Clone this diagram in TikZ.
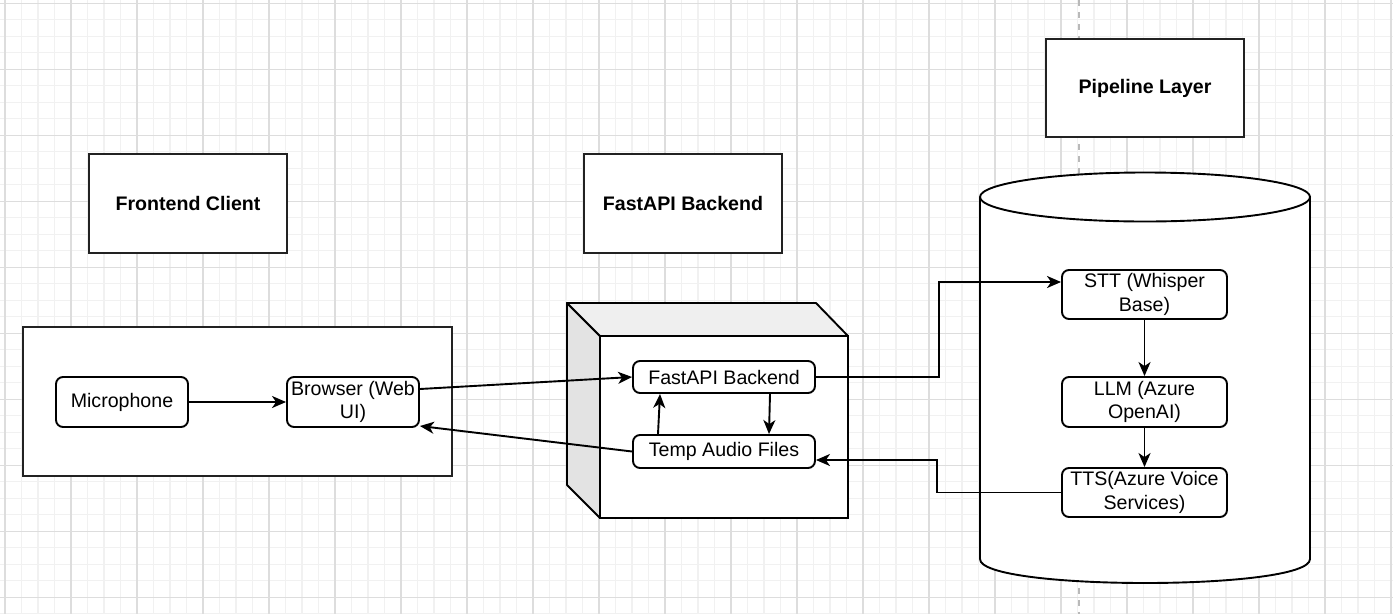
\documentclass[tikz,border=0pt]{standalone}
\usepackage{fontspec}
\setmainfont{Liberation Sans}
\usetikzlibrary{arrows.meta}
\definecolor{minorgray}{HTML}{F1F1F1}
\definecolor{majorgray}{HTML}{DDDDDD}
\definecolor{sidegray}{HTML}{E3E3E3}
\definecolor{topgray}{HTML}{EFEFEF}
\definecolor{edgegray}{HTML}{222222}
\begin{document}
\begin{tikzpicture}[x=1pt,y=-1pt,
		labeltext/.style={font=\fontsize{19.6}{23.8}\selectfont},
		titlebox/.style={draw=edgegray,line width=2pt,fill=white,inner sep=0pt,minimum width=198pt,minimum height=99pt,labeltext,font=\fontsize{19.6}{23.8}\selectfont\bfseries},
		stepbox/.style={draw=black,line width=1.9pt,fill=white,rounded corners=7pt,inner sep=0pt,align=center,labeltext},
		arr/.style={line width=1.9pt,-{Stealth[length=14pt,width=12pt,inset=4pt]}}]
	\useasboundingbox (0,0) rectangle (1393,614);
	\fill[white] (0,0) rectangle (1393,614);

	\foreach \k in {0,...,85} \draw[minorgray,line width=1.2pt] ({5+16.5*(\k-1)},0) -- ({5+16.5*(\k-1)},614);
	\foreach \k in {0,...,38} \draw[minorgray,line width=1.2pt] (0,{3.3+16.5*(\k-1)}) -- (1393,{3.3+16.5*(\k-1)});
	\foreach \k in {0,...,21} \draw[majorgray,line width=1.2pt] ({5+66*\k},0) -- ({5+66*\k},614);
	\foreach \k in {0,...,9} \draw[majorgray,line width=1.2pt] (0,{3.3+66*\k}) -- (1393,{3.3+66*\k});
	\draw[gray!55,line width=1.3pt,dash pattern=on 6pt off 6pt] (1079,0) -- (1079,614);

	\node[titlebox] (frontTitle) at (188,203.5) {Frontend Client};
	\node[titlebox] (backTitle) at (683,203.5) {FastAPI Backend};
	\node[titlebox,minimum height=98pt] (pipeTitle) at (1145,88) {Pipeline Layer};

	\node[draw=edgegray,line width=2pt,fill=white,minimum width=429pt,minimum height=149pt] (front) at (237.5,401.5) {};
	\node[stepbox,minimum width=132pt,minimum height=50pt] (mic) at (122,402) {Microphone};
	\node[stepbox,minimum width=132pt,minimum height=50pt] (browser) at (353,402) {Browser (Web\\UI)};

	\filldraw[fill=sidegray,draw=black,line width=1.9pt,line join=round] (567,303) -- (600,336) -- (600,518) -- (567,485) -- cycle;
	\filldraw[fill=topgray,draw=black,line width=1.9pt,line join=round] (567,303) -- (816,303) -- (848,336) -- (600,336) -- cycle;
	\filldraw[fill=white,draw=black,line width=1.9pt] (600,336) rectangle (848,518);
	\node[stepbox,minimum width=182pt,minimum height=32pt] (fastapi) at (724,377) {FastAPI Backend};
	\node[stepbox,minimum width=182pt,minimum height=33pt] (temp) at (724,451.5) {Temp Audio Files};

	\filldraw[fill=white,draw=black,line width=1.9pt] (980,197) -- (980,559) .. controls (980,591) and (1310,591) .. (1310,559) -- (1310,197);
	\filldraw[fill=white,draw=black,line width=1.9pt] (1145,197) ellipse [x radius=165,y radius=24.5];
	\node[stepbox,minimum width=165pt,minimum height=49pt] (stt) at (1144.5,294.5) {STT (Whisper\\Base)};
	\node[stepbox,minimum width=165pt,minimum height=50pt] (llm) at (1144.5,402) {LLM (Azure\\OpenAI)};
	\node[stepbox,minimum width=165pt,minimum height=49pt] (tts) at (1144.5,492.5) {TTS(Azure Voice\\Services)};

	\draw[arr] (mic) -- (browser);
	\draw[arr] ([yshift=13pt]browser.east) -- (fastapi.west);
	\draw[arr] (temp.west) -- ([yshift=-24pt]browser.east);
	\draw[arr] ([xshift=-66pt]temp.north) -- ([xshift=-64pt]fastapi.south);
	\draw[arr] ([xshift=46pt]fastapi.south) -- ([xshift=45pt]temp.north);
	\draw[arr] (fastapi.east) -- ++(123,0) |- ([yshift=12.5pt]stt.west);
	\draw[arr] (stt) -- (llm);
	\draw[arr] (llm) -- (tts);
	\draw[arr] (tts.west) -- ++(-124,0) |- ([yshift=-8.5pt]temp.east);
\end{tikzpicture}
\end{document}
